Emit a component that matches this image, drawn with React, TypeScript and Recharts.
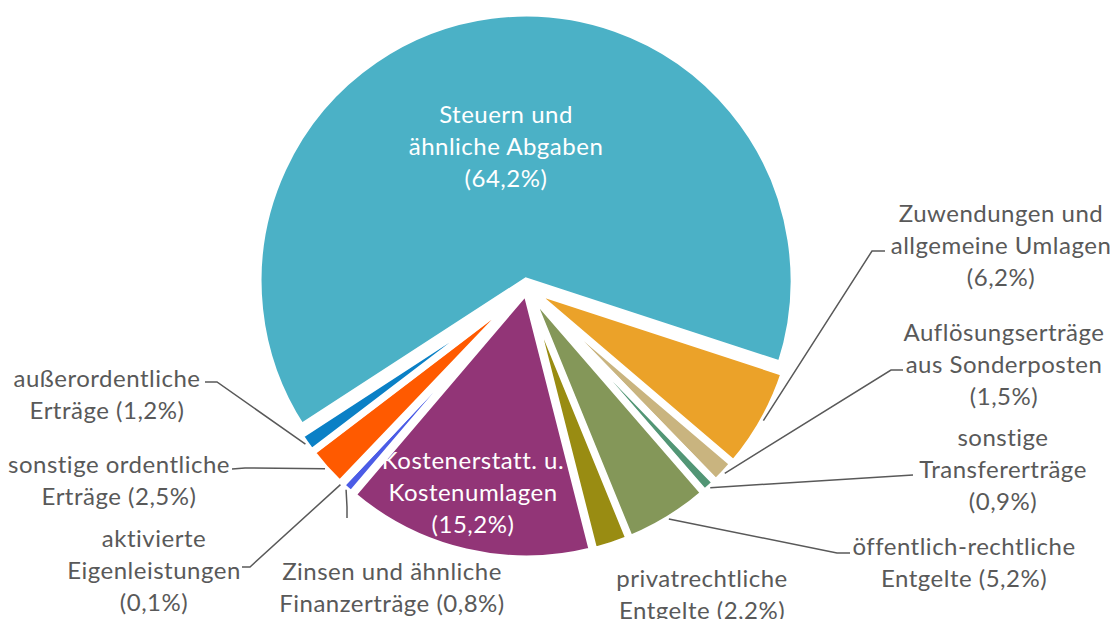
import React from 'react'
import { PieChart, Pie, Cell, Sector } from 'recharts'

const categories = [
  'Steuern und ähnliche Abgaben',
  'Zuwendungen und allgemeine Umlagen',
  'Auflösungserträge aus Sonderposten',
  'sonstige Transfererträge',
  'öffentlich-rechtliche Entgelte',
  'privatrechtliche Entgelte',
  'Kostenerstatt. u. Kostenumlagen',
  'Zinsen und ähnliche Finanzerträge',
  'aktivierte Eigenleistungen',
  'sonstige ordentliche Erträge',
  'außerordentliche Erträge',
]

// Anteile in Prozent
const shares = [64.2, 6.2, 1.5, 0.9, 5.2, 2.2, 15.2, 0.8, 0.1, 2.5, 1.2]

// Zeilenumbruch der Beschriftungen, '%' = Prozentwert
const labelRows = [
  ['Steuern und', 'ähnliche Abgaben', '%'],
  ['Zuwendungen und', 'allgemeine Umlagen', '%'],
  ['Auflösungserträge', 'aus Sonderposten', '%'],
  ['sonstige', 'Transfererträge', '%'],
  ['öffentlich-rechtliche', 'Entgelte %'],
  ['privatrechtliche', 'Entgelte %'],
  ['Kostenerstatt. u.', 'Kostenumlagen', '%'],
  ['Zinsen und ähnliche', 'Finanzerträge %'],
  ['aktivierte', 'Eigenleistungen', '%'],
  ['sonstige ordentliche', 'Erträge %'],
  ['außerordentliche', 'Erträge %'],
]

const colors = [
  '#4BB1C6',
  '#EBA229',
  '#C9B47F',
  '#529675',
  '#849759',
  '#998C12',
  '#923577',
  '#4B5CE6',
  '#A5A5A5',
  '#FF5A00',
  '#0A80C6',
]

// Explosion der Segmente in px
const explode = [7, 3, 3, 3, 3, 3, 3, 3, 3, 3, 3]

// Lage der Beschriftungen und Führungslinien
const labelPos: { x: number; y: number; fill?: string; path?: number[][] }[] = [
  { x: 506, y: 113, fill: '#fff' },
  { x: 1001, y: 212, path: [[872, 251], [885, 251]] },
  { x: 1004, y: 331, path: [[891, 370], [903, 370]] },
  { x: 1003, y: 436, path: [[913, 475]] },
  { x: 964, y: 545, path: [[837, 553], [850, 553]] },
  { x: 702, y: 577 },
  { x: 473, y: 459, fill: '#fff' },
  { x: 392, y: 570, path: [[347, 507], [347, 518]] },
  { x: 154, y: 537, path: [[250, 567], [242, 567]] },
  { x: 119, y: 463, path: [[245, 468], [232, 469]] },
  { x: 107, y: 377, path: [[217, 382], [205, 382]] },
]

const data = categories.map((name, i) => ({ name, value: shares[i] }))

const fmt = (v: number) => `(${v.toFixed(1).replace('.', ',')}%)`
const RAD = Math.PI / 180
const FONT = 'Lato, "Open Sans", sans-serif'

function ExplodedSector(props: any) {
  const idx = categories.indexOf(props.name ?? props.payload?.name)
  const d = explode[idx] ?? 0
  const mid = (props.startAngle + props.endAngle) / 2
  const cx = props.cx + d * Math.cos(-mid * RAD)
  const cy = props.cy + d * Math.sin(-mid * RAD)
  return <Sector {...props} cx={cx} cy={cy} />
}

function renderLabel(props: any) {
  const { cx, cy, midAngle, outerRadius, index } = props
  const pos = labelPos[index]
  const rows = labelRows[index].map((r) => r.replace('%', fmt(shares[index])))
  const r0 = outerRadius + 3
  const sx = cx + r0 * Math.cos(-midAngle * RAD)
  const sy = cy + r0 * Math.sin(-midAngle * RAD)
  return (
    <g key={`lbl-${index}`}>
      {pos.path && (
        <polyline
          points={[[sx, sy], ...pos.path].map((p) => p.join(',')).join(' ')}
          fill="none"
          stroke="#595959"
          strokeWidth={1.5}
        />
      )}
      <text
        x={pos.x}
        textAnchor="middle"
        fill={pos.fill ?? '#595959'}
        fontFamily={FONT}
        fontSize={24}
        letterSpacing={0.5}
      >
        {rows.map((row, j) => (
          <tspan key={j} x={pos.x} y={pos.y + j * 32} dominantBaseline="central">
            {row}
          </tspan>
        ))}
      </text>
    </g>
  )
}

export default function App() {
  return (
    <div style={{ position: 'absolute', left: 0, top: 0, width: 1116, height: 619, background: '#fff' }}>
      <PieChart width={1116} height={619}>
        <Pie
          data={data}
          dataKey="value"
          nameKey="name"
          cx={522}
          cy={283}
          outerRadius={268}
          startAngle={213}
          endAngle={-147}
          stroke="#fff"
          strokeWidth={7}
          label={renderLabel}
          labelLine={false}
          shape={ExplodedSector}
          inactiveShape={ExplodedSector}
          isAnimationActive={false}
        >
          {data.map((d, i) => (
            <Cell key={d.name} fill={colors[i]} />
          ))}
        </Pie>
      </PieChart>
    </div>
  )
}
